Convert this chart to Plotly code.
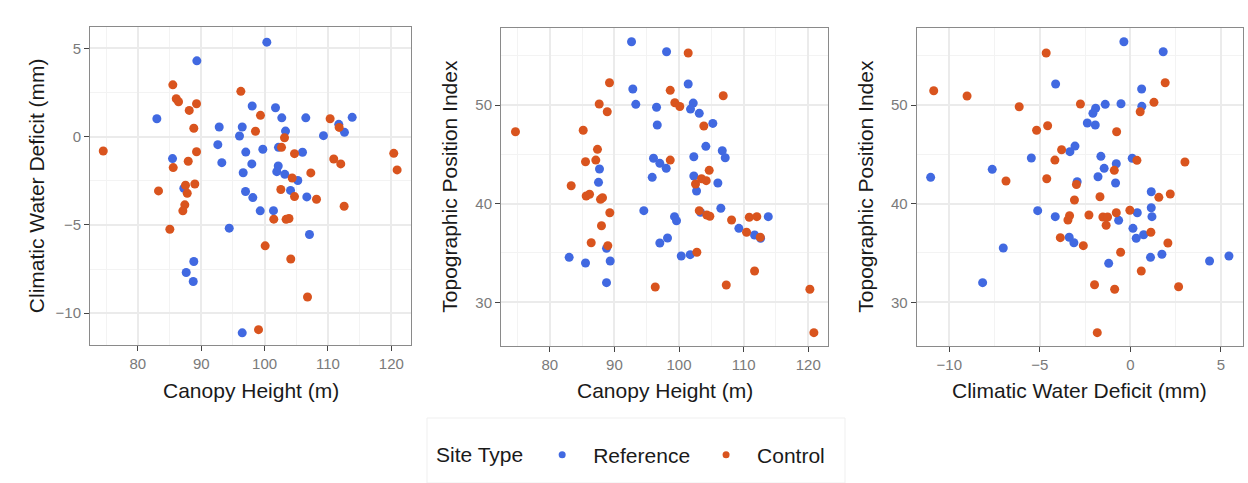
import plotly.graph_objects as go

# ---------------- Data ----------------
# Panel 1: Canopy Height (m) vs Climatic Water Deficit (mm)
p1_ref_ch = [100.35, 89.31, 83.00, 92.84, 92.62, 93.25, 85.47, 87.26, 88.83, 87.63,
             88.74, 94.42, 96.47, 98.04, 101.72, 102.71, 106.50, 113.82, 111.70, 112.60,
             109.29, 103.30, 96.47, 96.04, 97.03, 99.72, 102.19, 105.98, 97.98, 96.62,
             102.15, 101.92, 103.19, 105.24, 96.99, 104.09, 98.14, 106.66, 99.31, 101.40,
             107.08]
p1_ref_cwd = [5.36, 4.30, 1.02, 0.55, -0.45, -1.47, -1.24, -2.92, -7.07, -7.69,
              -8.20, -5.18, -11.11, 1.74, 1.64, 1.07, 1.07, 1.10, 0.70, 0.25,
              0.06, 0.32, 0.55, 0.04, -0.87, -0.71, -0.60, -0.88, -1.54, -2.04,
              -1.66, -1.98, -2.13, -2.48, -3.10, -3.04, -3.45, -3.41, -4.20, -4.19,
              -5.54]
p1_ctl_ch = [74.54, 83.26, 85.52, 86.06, 86.42, 89.26, 88.11, 88.83, 89.26, 87.95,
             85.58, 87.52, 88.99, 87.79, 87.41, 87.10, 85.05, 99.04, 96.25, 99.35,
             98.56, 110.34, 111.77, 103.14, 102.67, 104.72, 110.91, 112.02, 107.29, 104.35,
             102.56, 104.72, 108.19, 112.55, 101.45, 103.39, 103.85, 100.09, 104.13, 106.77,
             120.38, 120.91]
p1_ctl_cwd = [-0.81, -3.07, 2.94, 2.15, 1.98, 1.87, 1.49, 0.48, -0.85, -1.39,
              -1.75, -2.75, -2.68, -3.20, -3.86, -4.20, -5.24, -10.93, 2.57, 1.21,
              0.31, 1.02, 0.53, -0.06, -0.60, -0.96, -1.26, -1.54, -2.05, -2.34,
              -2.99, -3.39, -3.54, -3.94, -4.67, -4.68, -4.63, -6.18, -6.93, -9.08,
              -0.94, -1.88]

# Panel 2: Canopy Height (m) vs Topographic Position Index
p2_ref_ch = [92.65, 98.07, 92.85, 93.31, 96.52, 96.63, 96.05, 97.03, 98.02, 95.85,
             87.69, 87.54, 94.55, 99.30, 99.61, 98.22, 97.03, 88.78, 83.00, 85.53,
             89.35, 88.78, 100.34, 101.42, 102.20, 101.78, 103.13, 105.23, 104.15, 106.69,
             107.15, 102.29, 102.29, 102.71, 106.01, 106.47, 103.33, 109.26, 111.69, 112.62,
             113.81, 101.73]
p2_ref_tpi = [56.42, 55.40, 51.62, 50.07, 49.77, 47.97, 44.60, 44.09, 43.58, 42.67,
              43.51, 42.16, 39.29, 38.68, 38.27, 36.52, 36.01, 35.47, 34.56, 33.98,
              34.19, 31.99, 34.69, 52.13, 50.20, 49.59, 49.16, 48.14, 45.81, 45.37,
              44.66, 44.76, 42.80, 41.28, 42.09, 39.53, 39.12, 37.50, 36.82, 36.49,
              38.68, 34.83]
p2_ctl_ch = [74.69, 89.24, 87.65, 88.89, 85.17, 87.38, 85.53, 87.12, 83.31, 85.63,
             86.15, 87.85, 88.16, 89.29, 88.00, 86.41, 88.98, 96.32, 98.64, 99.35,
             100.12, 98.64, 101.42, 106.84, 103.84, 104.67, 102.55, 103.48, 104.21, 103.13,
             104.30, 104.77, 108.13, 110.87, 112.04, 110.45, 112.57, 102.76, 111.69, 107.31,
             120.25, 120.87]
p2_ctl_tpi = [47.29, 52.26, 50.10, 49.32, 47.44, 45.51, 44.25, 44.42, 41.82, 40.78,
              40.95, 40.44, 40.60, 39.08, 37.76, 36.04, 35.74, 31.55, 51.49, 50.23,
              49.85, 44.42, 55.27, 50.94, 47.87, 43.38, 41.99, 42.53, 42.33, 39.29,
              38.85, 38.72, 38.34, 38.62, 38.68, 37.10, 36.59, 35.07, 33.17, 31.75,
              31.32, 26.92]

# Panel 3: Climatic Water Deficit (mm) vs Topographic Position Index
p3_ref_cwd = [-4.13, -3.06, -3.34, -5.47, -7.63, -11.03, -2.94, -5.12, -4.15, -3.38,
              -3.12, -7.02, -8.16, -0.36, 1.81, 0.62, 0.63, -1.39, -0.52, -1.92,
              -2.07, -2.38, -1.94, -1.63, -0.78, 0.10, -1.45, -1.79, -0.82, 1.15,
              1.15, 1.19, 0.38, -0.65, 0.14, 0.32, 0.73, 1.11, 1.74, -1.20,
              4.37, 5.44]
p3_ref_tpi = [52.13, 45.84, 45.27, 44.63, 43.48, 42.67, 42.23, 39.29, 38.68, 36.59,
              36.04, 35.51, 31.99, 56.42, 55.40, 51.62, 49.87, 50.07, 50.13, 49.67,
              49.16, 48.18, 47.97, 44.80, 44.05, 44.60, 43.58, 42.73, 42.09, 41.21,
              39.59, 38.68, 39.08, 38.31, 37.50, 36.49, 36.85, 34.56, 34.87, 33.95,
              34.19, 34.69]
p3_ctl_cwd = [-4.65, -10.86, -9.02, -6.14, -5.18, -4.57, -3.80, -4.17, -6.87, -4.62,
              -3.36, -3.45, -3.87, -2.76, -2.98, -3.09, -2.60, 1.92, 1.30, 0.54,
              -0.76, 0.36, 3.01, -0.89, -1.68, 1.57, 2.20, -2.29, -1.52, -1.26,
              -1.34, -0.78, -0.03, 1.13, 2.07, -0.54, 0.60, -1.98, -0.87, 2.66,
              -1.83]
p3_ctl_tpi = [55.27, 51.45, 50.91, 49.83, 47.44, 47.90, 45.47, 44.42, 42.30, 42.53,
              38.78, 38.34, 36.55, 50.10, 41.94, 40.37, 35.74, 52.26, 50.27, 49.32,
              47.29, 44.39, 44.22, 43.38, 40.70, 40.64, 40.98, 38.85, 38.65, 38.65,
              37.81, 39.08, 39.33, 37.10, 36.01, 35.07, 33.17, 31.78, 31.32, 31.58,
              26.92]

site_types = ["Reference", "Control"]
ch_ticks = [80, 90, 100, 110, 120]
cwd_ticks = [-10, -5, 0, 5]
tpi_ticks = [30, 40, 50]

# ---------------- Styling ----------------
W, H = 1248, 483
BLUE = "#4169E1"
ORANGE = "#D9541E"
FONT = "Liberation Sans, Arial, sans-serif"
GRID = "#EBEBEB"
MINOR = "#F3F3F3"
TICKCOL = "#7A7A7A"

def fx(p):
    return p / W

def fy(p):
    return 1 - p / H

panels = [
    dict(x0=90, x1=411, y0=27.3, y1=345),
    dict(x0=501, x1=828.3, y0=27.7, y1=345.7),
    dict(x0=916.7, x1=1242.7, y0=27.7, y1=345.7),
]

fig = go.Figure()

data = [
    (p1_ref_ch, p1_ref_cwd, p1_ctl_ch, p1_ctl_cwd),
    (p2_ref_ch, p2_ref_tpi, p2_ctl_ch, p2_ctl_tpi),
    (p3_ref_cwd, p3_ref_tpi, p3_ctl_cwd, p3_ctl_tpi),
]
for i, (rx, ry, cx, cy) in enumerate(data):
    sfx = "" if i == 0 else str(i + 1)
    fig.add_trace(go.Scatter(x=rx, y=ry, mode="markers", xaxis="x" + sfx, yaxis="y" + sfx,
                             marker=dict(color=BLUE, size=9), showlegend=False,
                             hoverinfo="skip"))
    fig.add_trace(go.Scatter(x=cx, y=cy, mode="markers", xaxis="x" + sfx, yaxis="y" + sfx,
                             marker=dict(color=ORANGE, size=9), showlegend=False,
                             hoverinfo="skip"))

# legend entries
for name, col in zip(site_types, [BLUE, ORANGE]):
    fig.add_trace(go.Scatter(x=[None], y=[None], mode="markers", name=name,
                             marker=dict(color=col, size=7), showlegend=True))

def axis_common(tickvals, rng, minor_dtick, minor_tick0, domain, anchor):
    return dict(
        domain=domain, anchor=anchor, range=rng,
        tickmode="array", tickvals=tickvals,
        showgrid=True, gridcolor=GRID, gridwidth=1.5,
        minor=dict(tickmode="linear", dtick=minor_dtick, tick0=minor_tick0,
                   showgrid=True, gridcolor=MINOR, gridwidth=1, ticks=""),
        zeroline=False, showline=True, linecolor="#8A8A8A", linewidth=1, mirror=True,
        ticks="outside", ticklen=5, tickwidth=1.3, tickcolor="#444444",
        tickfont=dict(family=FONT, size=15, color=TICKCOL),
        automargin=False, fixedrange=True,
    )

ch_range = [72.45, 123.1]
cwd_range = [-11.8, 6.2]
tpi_range = [25.6, 57.84]

layout = dict(
    width=W, height=H,
    margin=dict(l=0, r=0, t=0, b=0),
    paper_bgcolor="white", plot_bgcolor="white",
    font=dict(family=FONT, color="#1A1A1A"),
    showlegend=True,
)
specs = [
    (ch_ticks, ch_range, 5, 75, cwd_ticks, cwd_range, 2.5, -12.5),
    (ch_ticks, ch_range, 5, 75, tpi_ticks, tpi_range, 5, 25),
    (cwd_ticks, cwd_range, 2.5, -12.5, tpi_ticks, tpi_range, 5, 25),
]
for i, (p, s) in enumerate(zip(panels, specs)):
    sfx = "" if i == 0 else str(i + 1)
    xd = [fx(p["x0"]), fx(p["x1"])]
    yd = [fy(p["y1"]), fy(p["y0"])]
    layout["xaxis" + sfx] = axis_common(s[0], s[1], s[2], s[3], xd, "y" + sfx)
    layout["yaxis" + sfx] = axis_common(s[4], s[5], s[6], s[7], yd, "x" + sfx)

fig.update_layout(**layout)

# axis titles
xtitles = ["Canopy Height (m)", "Canopy Height (m)", "Climatic Water Deficit (mm)"]
ytitles = ["Climatic Water Deficit (mm)", "Topographic Position Index", "Topographic Position Index"]
ytitle_x = [36, 450, 866]
for i, p in enumerate(panels):
    fig.add_annotation(text=xtitles[i], xref="paper", yref="paper",
                       x=fx((p["x0"] + p["x1"]) / 2), y=fy(390),
                       xanchor="center", yanchor="middle", showarrow=False,
                       font=dict(family=FONT, size=21, color="#1A1A1A"))
    fig.add_annotation(text=ytitles[i], xref="paper", yref="paper",
                       x=fx(ytitle_x[i]), y=fy((p["y0"] + p["y1"]) / 2),
                       xanchor="center", yanchor="middle", showarrow=False, textangle=-90,
                       font=dict(family=FONT, size=21, color="#1A1A1A"))

# legend box
fig.add_shape(type="rect", xref="paper", yref="paper",
              x0=fx(427), x1=fx(845), y0=fy(483), y1=fy(418),
              line=dict(color="#EFEFEF", width=1), fillcolor="white", layer="below")

fig.update_layout(legend=dict(
    orientation="h", x=fx(434), y=fy(455), xanchor="left", yanchor="middle",
    title=dict(text="Site Type", side="left", font=dict(family=FONT, size=21, color="#1A1A1A")),
    font=dict(family=FONT, size=21, color="#1A1A1A"),
    itemwidth=52, bgcolor="rgba(0,0,0,0)", borderwidth=0,
))

fig.write_html("out.html")
